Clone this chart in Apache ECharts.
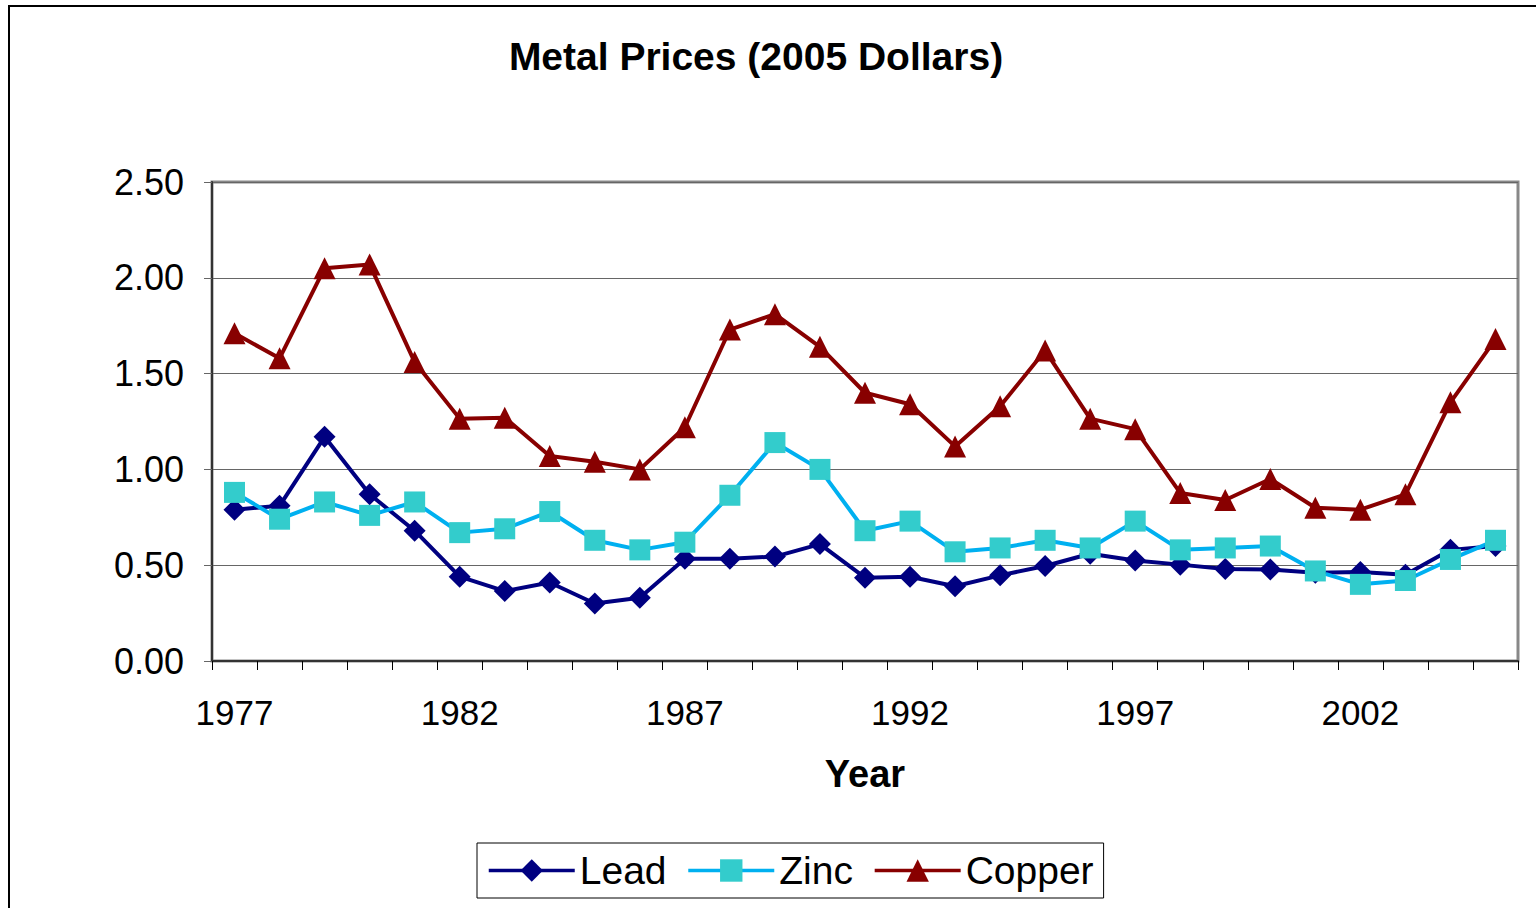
<!DOCTYPE html>
<html>
<head>
<meta charset="utf-8">
<script src="https://cdn.jsdelivr.net/npm/echarts@6/dist/echarts.min.js"></script>
<style>
html,body{margin:0;padding:0;background:#fff;}
#chart{width:1536px;height:908px;}
</style>
</head>
<body>
<div id="chart"></div>
<script>
var years = ['1977','1978','1979','1980','1981','1982','1983','1984','1985','1986','1987','1988','1989','1990','1991','1992','1993','1994','1995','1996','1997','1998','1999','2000','2001','2002','2003','2004','2005'];
var lead = [0.79,0.81,1.17,0.87,0.68,0.44,0.365,0.41,0.30,0.33,0.534,0.534,0.545,0.61,0.435,0.44,0.39,0.447,0.496,0.56,0.525,0.503,0.48,0.477,0.46,0.465,0.45,0.58,0.60];
var zinc = [0.88,0.74,0.83,0.76,0.83,0.67,0.69,0.78,0.63,0.58,0.62,0.865,1.14,1.00,0.68,0.73,0.57,0.59,0.63,0.59,0.73,0.58,0.59,0.60,0.47,0.40,0.42,0.53,0.63];
var copper = [1.71,1.58,2.05,2.07,1.56,1.265,1.27,1.07,1.04,1.00,1.22,1.73,1.81,1.64,1.40,1.34,1.12,1.33,1.62,1.265,1.21,0.877,0.84,0.95,0.80,0.79,0.87,1.35,1.68];
var yTicks = ['0.00','0.50','1.00','1.50','2.00','2.50'];

var FONT = '"Liberation Sans", Arial, sans-serif';
var chart = echarts.init(document.getElementById('chart'), null, {renderer: 'svg'});
chart.setOption({
  animation: false,
  backgroundColor: '#fff',
  graphic: [{
    type: 'rect', silent: true, z: -1,
    shape: {x: 9, y: 6, width: 1700, height: 1100},
    style: {fill: 'none', stroke: '#000', lineWidth: 2}
  }],
  title: {
    text: 'Metal Prices (2005 Dollars)',
    left: 756, textAlign: 'center', top: 37, padding: 0,
    textStyle: {fontFamily: FONT, fontSize: 39, fontWeight: 'bold', color: '#000', lineHeight: 39}
  },
  legend: {
    left: 477, top: 843,
    padding: [8, 10, 8, 10],
    itemGap: 20,
    itemWidth: 86, itemHeight: 28,
    borderColor: '#000', borderWidth: 1,
    lineStyle: {width: 3.5},
    textStyle: {fontFamily: FONT, fontSize: 39, color: '#000', lineHeight: 39},
    data: ['Lead', 'Zinc', 'Copper']
  },
  grid: {
    left: 212, right: 18, top: 182, bottom: 247,
    show: true, borderColor: '#888', borderWidth: 3, backgroundColor: '#fff'
  },
  xAxis: {
    type: 'category', data: years, boundaryGap: true,
    name: 'Year', nameLocation: 'middle', nameGap: 94,
    nameTextStyle: {fontFamily: FONT, fontSize: 38, fontWeight: 'bold', color: '#000', lineHeight: 38},
    axisLine: {lineStyle: {color: '#333', width: 2}},
    axisTick: {show: true, interval: 0, length: 9, lineStyle: {color: '#000', width: 1}},
    axisLabel: {interval: 4, margin: 34, fontFamily: FONT, fontSize: 35, color: '#000', lineHeight: 35},
    splitLine: {show: false}
  },
  yAxis: {
    type: 'value', min: 0, max: 2.5, interval: 0.5,
    axisLine: {show: true, lineStyle: {color: '#333', width: 2}},
    axisTick: {show: true, length: 8, lineStyle: {color: '#666', width: 1}},
    axisLabel: {margin: 28, fontFamily: FONT, fontSize: 36, color: '#000',
      formatter: function (v) { return yTicks[Math.round(v / 0.5)]; }},
    splitLine: {show: true, lineStyle: {color: '#666', width: 1}}
  },
  series: [{
    name: 'Lead', type: 'line', data: lead,
    symbol: 'diamond', symbolSize: 22,
    lineStyle: {color: '#000080', width: 4},
    itemStyle: {color: '#000080'}
  }, {
    name: 'Zinc', type: 'line', data: zinc,
    symbol: 'rect', symbolSize: 21,
    lineStyle: {color: '#00B0F0', width: 4},
    itemStyle: {color: '#33CCCC'}
  }, {
    name: 'Copper', type: 'line', data: copper,
    symbol: 'triangle', symbolSize: 22,
    lineStyle: {color: '#880000', width: 4},
    itemStyle: {color: '#880000'}
  }]
});
</script>
</body>
</html>
